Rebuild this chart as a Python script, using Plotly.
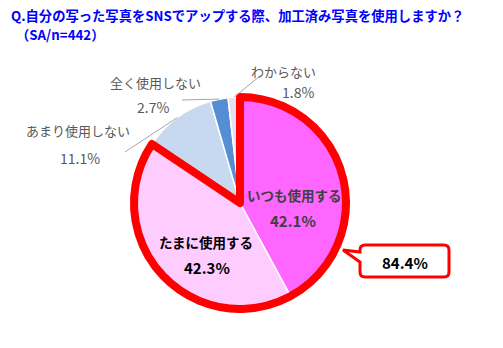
import math
import plotly.graph_objects as go

# ---- data ----
categories = ["いつも使用する", "たまに使用する", "あまり使用しない", "全く使用しない", "わからない"]
values = [42.1, 42.3, 11.1, 2.7, 1.8]
colors = ["#FF66FF", "#FFCCFF", "#C6D9F1", "#558ED5", "#E6E0EC"]
highlight_total = "84.4%"
title_lines = ["Q.自分の写った写真をSNSでアップする際、加工済み写真を使用しますか？", "（SA/n=442）"]

W, H = 503, 348
FONT = "Noto Sans CJK JP"

# pie geometry in pixels
cx, cy, R = 240, 203, 106


def px(x):
    return x / W


def py(y):
    return 1 - y / H


domain = dict(x=[px(cx - R), px(cx + R)], y=[py(cy + R), py(cy - R)])

fig = go.Figure()
fig.add_trace(go.Pie(
    values=values,
    labels=categories,
    textinfo="none",
    marker=dict(colors=colors, line=dict(color="white", width=1.5)),
    sort=False,
    direction="clockwise",
    rotation=0,
    domain=domain,
    showlegend=False,
    hoverinfo="label+value",
))

# red outline around the first two slices (computed from data)
hl = values[0] + values[1]
fig.add_trace(go.Pie(
    values=[hl, sum(values) - hl],
    labels=["hl", "rest"],
    textinfo="none",
    marker=dict(colors=["rgba(0,0,0,0)", "rgba(0,0,0,0)"],
                line=dict(color=["#FF0000", "rgba(0,0,0,0)"], width=8)),
    sort=False,
    direction="clockwise",
    rotation=0,
    domain=domain,
    showlegend=False,
    hoverinfo="skip",
))

total = sum(values)
cum = 0
mids = []
for v in values:
    mids.append((cum + v / 2) / total * 2 * math.pi)
    cum += v

annotations = []
shapes = []

# inside labels
inside_pos = {
    0: dict(x1=294, y1=195, x2=293, y2=220, color="#404040"),
    1: dict(x1=206, y1=242, x2=207, y2=267, color="#000000"),
}
for i, p in inside_pos.items():
    annotations.append(dict(
        x=px(p["x1"]), y=py(p["y1"]), xref="paper", yref="paper",
        text=f"<b>{categories[i]}</b>", showarrow=False, xanchor="center", yanchor="middle",
        font=dict(family=FONT, size=13.5, color=p["color"])))
    annotations.append(dict(
        x=px(p["x2"]), y=py(p["y2"]), xref="paper", yref="paper",
        text=f"<b>{values[i]:.1f}%</b>", showarrow=False, xanchor="center", yanchor="middle",
        font=dict(family=FONT, size=15, color=p["color"])))

# outside labels with leader lines (tip computed from slice mid-angle)
label_pos = {
    2: dict(tx=78, ty1=131, ux=80, ty2=158, lx=125, ly=152),
    3: dict(tx=155, ty1=82, ux=153, ty2=107, lx=182, ly=100),
    4: dict(tx=283, ty1=72, ux=298, ty2=92, lx=260, ly=76),
}
for i, p in label_pos.items():
    annotations.append(dict(
        x=px(p["tx"]), y=py(p["ty1"]), xref="paper", yref="paper",
        text=categories[i], showarrow=False, xanchor="center", yanchor="middle",
        font=dict(family=FONT, size=13, color="#595959")))
    annotations.append(dict(
        x=px(p["ux"]), y=py(p["ty2"]), xref="paper", yref="paper",
        text=f"{values[i]:.1f}%", showarrow=False, xanchor="center", yanchor="middle",
        font=dict(family=FONT, size=14, color="#595959")))
    a = mids[i]
    tipx = cx + R * math.sin(a)
    tipy = cy - R * math.cos(a)
    shapes.append(dict(type="line", xref="paper", yref="paper",
                       x0=px(p["lx"]), y0=py(p["ly"]), x1=px(tipx), y1=py(tipy),
                       line=dict(color="#A6A6A6", width=1)))

# callout box
bx0, bx1, by0, by1, r = 360, 449, 245, 277, 5
pts = [
    ("M", bx0 + r, by0), ("L", bx1 - r, by0), ("Q", bx1, by0, bx1, by0 + r),
    ("L", bx1, by1 - r), ("Q", bx1, by1, bx1 - r, by1),
    ("L", bx0 + r, by1), ("Q", bx0, by1, bx0, by1 - r),
    ("L", bx0, 262), ("L", 343, 250), ("L", bx0, 252),
    ("L", bx0, by0 + r), ("Q", bx0, by0, bx0 + r, by0),
]
path = ""
for seg in pts:
    cmd = seg[0]
    coords = seg[1:]
    parts = []
    for k in range(0, len(coords), 2):
        parts.append(f"{px(coords[k]):.5f},{py(coords[k+1]):.5f}")
    path += cmd + " ".join(parts) + " "
path += "Z"
shapes.append(dict(type="path", xref="paper", yref="paper", path=path,
                   fillcolor="white", line=dict(color="#FF0000", width=3)))
annotations.append(dict(
    x=px((bx0 + bx1) / 2), y=py((by0 + by1) / 2 + 1), xref="paper", yref="paper",
    text=f"<b>{highlight_total}</b>", showarrow=False, xanchor="center", yanchor="middle",
    font=dict(family=FONT, size=15, color="#000000")))

# title (two lines)
for k, (line, xx, yy) in enumerate(zip(title_lines, [9, 14], [15, 35])):
    annotations.append(dict(
        x=px(xx), y=py(yy), xref="paper", yref="paper", xanchor="left", yanchor="middle",
        align="left", text=f"<b>{line}</b>", showarrow=False,
        font=dict(family=FONT, size=13.3, color="#0000FF")))

fig.update_layout(
    width=W, height=H,
    margin=dict(l=0, r=0, t=0, b=0),
    paper_bgcolor="white", plot_bgcolor="white",
    annotations=annotations, shapes=shapes,
)

fig.write_html("out.html")
